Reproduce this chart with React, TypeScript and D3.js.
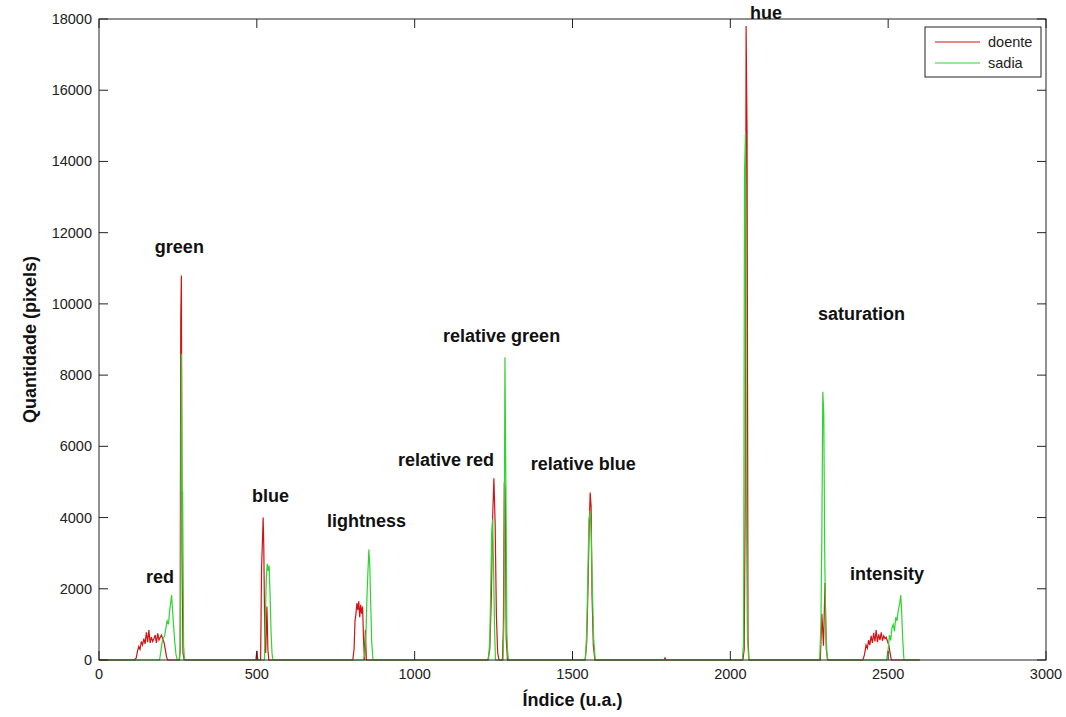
import * as d3 from 'd3';

// índice (u.a.) / quantidade (pixels) pairs
const doente: [number, number][] = [
  [0, 0], [112, 0],
  [118, 60], [122, 250], [126, 380], [130, 300], [134, 520], [138, 420], [142, 600], [146, 450],
  [150, 780], [154, 500], [158, 840], [162, 480], [166, 640], [170, 520], [174, 600], [178, 700],
  [182, 480], [186, 750], [190, 560], [194, 640], [198, 700], [202, 580], [206, 500], [210, 300],
  [214, 80], [218, 0],
  [254, 0], [257, 250], [259, 9600], [261, 10800], [263, 3000], [266, 200], [270, 0],
  [497, 0], [500, 260], [503, 0], [512, 0], [515, 2600], [518, 3400], [520, 4000], [522, 3200],
  [525, 800], [528, 200], [532, 1500], [535, 300], [538, 0],
  [804, 0], [808, 300], [811, 1100], [814, 1300], [817, 1600], [820, 1400], [823, 1650], [826, 1200],
  [829, 1550], [832, 1300], [835, 1500], [838, 600], [841, 0], [844, 850], [847, 0],
  [1232, 0], [1238, 300], [1243, 1800], [1247, 4000], [1251, 5100], [1255, 3800], [1259, 1200],
  [1263, 200], [1267, 0],
  [1278, 0], [1281, 900], [1284, 5000], [1287, 4800], [1290, 600], [1294, 0],
  [1540, 0], [1545, 500], [1549, 2000], [1553, 3800], [1556, 4700], [1559, 4300], [1562, 1800],
  [1566, 400], [1571, 0],
  [1790, 0], [1793, 60], [1796, 0],
  [2040, 0], [2044, 300], [2047, 4400], [2050, 17800], [2053, 14800], [2056, 600], [2059, 0],
  [2285, 0], [2290, 1300], [2295, 400], [2300, 2160], [2304, 300], [2308, 0],
  [2420, 0], [2425, 150], [2430, 420], [2434, 330], [2438, 560], [2442, 420], [2446, 680],
  [2450, 480], [2454, 760], [2458, 520], [2462, 840], [2466, 500], [2470, 720], [2474, 560],
  [2478, 780], [2482, 540], [2486, 680], [2490, 600], [2494, 640], [2498, 520], [2502, 420],
  [2506, 200], [2510, 0], [2600, 0],
];

const sadia: [number, number][] = [
  [0, 0], [192, 0],
  [196, 250], [200, 500], [204, 620], [208, 680], [212, 900], [216, 1100], [220, 1000],
  [224, 1400], [227, 1600], [230, 1820], [233, 1400], [236, 1000], [240, 500], [244, 150], [248, 0],
  [255, 0], [258, 400], [261, 8600], [263, 4800], [265, 4700], [268, 400], [271, 0],
  [524, 0], [527, 1200], [530, 2300], [533, 2700], [536, 2500], [539, 2650], [542, 1800],
  [545, 800], [548, 200], [551, 0],
  [838, 0], [842, 200], [846, 800], [849, 1800], [852, 2500], [855, 3100], [858, 2600],
  [861, 1500], [864, 500], [868, 0],
  [1234, 0], [1238, 600], [1241, 2000], [1244, 3600], [1247, 3950], [1250, 2600], [1253, 900], [1256, 0],
  [1280, 0], [1283, 1200], [1286, 8500], [1289, 4900], [1292, 800], [1294, 300], [1297, 0],
  [1541, 0], [1545, 800], [1549, 2500], [1552, 3900], [1556, 4200], [1559, 3600], [1563, 2000],
  [1567, 600], [1572, 0],
  [2038, 0], [2042, 500], [2045, 13700], [2048, 14800], [2051, 4000], [2054, 800], [2058, 0],
  [2283, 0], [2287, 1000], [2290, 3600], [2293, 7530], [2296, 6930], [2299, 3000], [2302, 900],
  [2306, 200], [2309, 0],
  [2495, 0], [2500, 300], [2504, 700], [2508, 550], [2512, 900], [2516, 1000], [2520, 800],
  [2524, 1200], [2528, 1100], [2532, 1400], [2536, 1550], [2540, 1820], [2543, 1300], [2546, 600],
  [2550, 0], [2600, 0],
];

const peakLabels: [string, number, number][] = [
  ['red', 149, 2160],
  ['green', 177, 11430],
  ['blue', 485, 4440],
  ['lightness', 722, 3735],
  ['relative red', 947, 5450],
  ['relative green', 1090, 8930],
  ['relative blue', 1368, 5335],
  ['hue', 2062, 18000],
  ['saturation', 2278, 9550],
  ['intensity', 2379, 2250],
];

const xTicks = [0, 500, 1000, 1500, 2000, 2500, 3000];
const yTicks = [0, 2000, 4000, 6000, 8000, 10000, 12000, 14000, 16000, 18000];

const series = [
  { name: 'doente', color: '#d01414', values: doente },
  { name: 'sadia', color: '#2fd42f', values: sadia },
];

const W = 1066, H = 717;
const left = 99, right = 1046, top = 19, bottom = 660;
const tickLen = 9;
const font = '"Liberation Sans", Arial, sans-serif';

export default function App() {
  const x = d3.scaleLinear().domain([0, 3000]).range([left, right]);
  const y = d3.scaleLinear().domain([0, 18000]).range([bottom, top]);
  const line = d3
    .line<[number, number]>()
    .x((d) => x(d[0]))
    .y((d) => y(d[1]));

  return (
    <svg
      width={W}
      height={H}
      style={{ position: 'absolute', left: 0, top: 0, background: '#fff' }}
      fontFamily={font}
    >
      <rect x={0} y={0} width={W} height={H} fill="#fff" />
      {series.map((s) => (
        <path key={s.name} d={line(s.values) ?? ''} fill="none" stroke={s.color} strokeWidth={1.2} />
      ))}

      {/* axes box */}
      <rect x={left} y={top} width={right - left} height={bottom - top} fill="none" stroke="#222" strokeWidth={1} />
      {xTicks.map((t) => (
        <g key={'x' + t}>
          <line x1={x(t)} x2={x(t)} y1={bottom} y2={bottom - tickLen} stroke="#222" />
          <line x1={x(t)} x2={x(t)} y1={top} y2={top + tickLen} stroke="#222" />
          <text x={x(t)} y={679} fontSize={14.5} textAnchor="middle" fill="#222">
            {t}
          </text>
        </g>
      ))}
      {yTicks.map((t) => (
        <g key={'y' + t}>
          <line x1={left} x2={left + tickLen} y1={y(t)} y2={y(t)} stroke="#222" />
          <line x1={right} x2={right - tickLen} y1={y(t)} y2={y(t)} stroke="#222" />
          <text x={92} y={y(t) + 5} fontSize={14.5} textAnchor="end" fill="#222">
            {t}
          </text>
        </g>
      ))}

      {peakLabels.map(([label, px, py]) => (
        <text key={label} x={x(px)} y={y(py)} fontSize={18} fontWeight="bold" fill="#111">
          {label}
        </text>
      ))}

      <text x={(left + right) / 2} y={706} fontSize={18} fontWeight="bold" textAnchor="middle" fill="#111">
        Índice (u.a.)
      </text>
      <text
        transform={`translate(36,${(top + bottom) / 2}) rotate(-90)`}
        fontSize={18}
        fontWeight="bold"
        textAnchor="middle"
        fill="#111"
      >
        Quantidade (pixels)
      </text>

      {/* legend */}
      <g>
        <rect x={925} y={27} width={116} height={50} fill="#fff" stroke="#222" />
        {series.map((s, i) => (
          <g key={s.name}>
            <line x1={935} x2={980} y1={42 + i * 21} y2={42 + i * 21} stroke={s.color} strokeWidth={1.2} />
            <text x={988} y={47 + i * 21} fontSize={14.5} fill="#222">
              {s.name}
            </text>
          </g>
        ))}
      </g>
    </svg>
  );
}
